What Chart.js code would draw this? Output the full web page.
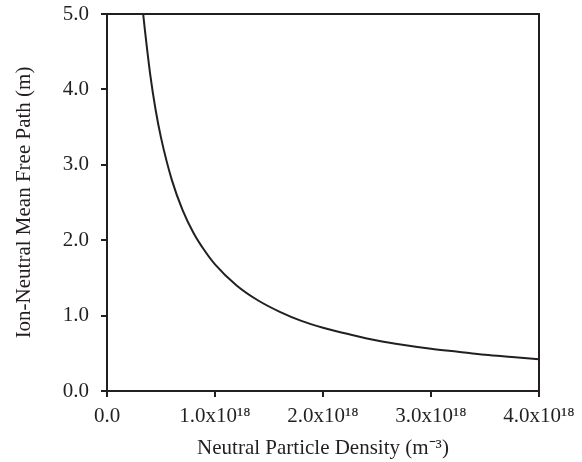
<!DOCTYPE html>
<html>
<head>
<meta charset="utf-8">
<script src="https://cdn.jsdelivr.net/npm/chart.js@4"></script>
<style>
  html, body { margin: 0; padding: 0; background: #fff; }
  #wrap { width: 582px; height: 462px; }
</style>
</head>
<body>
<div id="wrap"><canvas id="c" width="582" height="462"></canvas></div>
<script>
// Values
const densityE18 = [0.335, 0.35, 0.40, 0.45, 0.50, 0.60, 0.70, 0.80, 0.90, 1.00, 1.20, 1.40, 1.60, 1.80, 2.00, 2.25, 2.50, 2.75, 3.00, 3.25, 3.50, 3.75, 4.00];
const meanFreePath = [5.00, 4.80, 4.20, 3.73, 3.36, 2.80, 2.40, 2.10, 1.87, 1.68, 1.40, 1.20, 1.05, 0.93, 0.84, 0.75, 0.67, 0.61, 0.56, 0.52, 0.48, 0.45, 0.42];
const xTickLabels = ["0.0", "1.0x10\u00B9\u2078", "2.0x10\u00B9\u2078", "3.0x10\u00B9\u2078", "4.0x10\u00B9\u2078"];
const yTickLabels = ["0.0", "1.0", "2.0", "3.0", "4.0", "5.0"];
const xTitle = "Neutral Particle Density (m\u207B\u00B3)";
const yTitle = "Ion-Neutral Mean Free Path (m)";

const ink = '#231f20';
const fontFamily = '"Liberation Serif", "Times New Roman", serif';

const points = densityE18.map((x, i) => ({ x: x, y: meanFreePath[i] }));

const boxPlugin = {
  id: 'box',
  afterDraw(chart) {
    const { ctx, chartArea: a } = chart;
    ctx.save();
    ctx.strokeStyle = ink;
    ctx.lineWidth = 2;
    ctx.beginPath();
    ctx.moveTo(a.left, a.top);
    ctx.lineTo(a.right, a.top);
    ctx.lineTo(a.right, a.bottom);
    ctx.stroke();
    ctx.restore();
  }
};

new Chart(document.getElementById('c'), {
  type: 'line',
  data: {
    datasets: [{
      data: points,
      borderColor: ink,
      borderWidth: 2,
      pointRadius: 0,
      fill: false,
      cubicInterpolationMode: 'monotone'
    }]
  },
  options: {
    responsive: false,
    animation: false,
    layout: { padding: { top: 14, right: 43, left: 0, bottom: 0 } },
    plugins: { legend: { display: false }, tooltip: { enabled: false } },
    scales: {
      x: {
        type: 'linear',
        min: 0, max: 4,
        afterFit(s) { s.height = 71; s.paddingLeft = 0; s.paddingRight = 0; },
        border: { display: true, color: ink, width: 2 },
        grid: { display: true, drawOnChartArea: false, drawTicks: true, tickLength: 6, color: ink, lineWidth: 2 },
        ticks: {
          stepSize: 1,
          color: ink,
          padding: 7,
          maxRotation: 0,
          font: { family: fontFamily, size: 21 },
          callback: (v, i) => xTickLabels[i]
        },
        title: {
          display: true,
          text: xTitle,
          color: ink,
          font: { family: fontFamily, size: 21 },
          padding: { top: 0, bottom: 1 }
        }
      },
      y: {
        min: 0, max: 5,
        afterFit(s) { s.width = 107; s.paddingTop = 0; s.paddingBottom = 0; },
        border: { display: true, color: ink, width: 2 },
        grid: { display: true, drawOnChartArea: false, drawTicks: true, tickLength: 6, color: ink, lineWidth: 2 },
        ticks: {
          stepSize: 1,
          color: ink,
          padding: 12,
          font: { family: fontFamily, size: 21 },
          callback: (v, i) => yTickLabels[i]
        },
        title: {
          display: true,
          text: yTitle,
          color: ink,
          font: { family: fontFamily, size: 21 },
          padding: { top: 12, bottom: 0 }
        }
      }
    }
  },
  plugins: [boxPlugin]
});
</script>
</body>
</html>
